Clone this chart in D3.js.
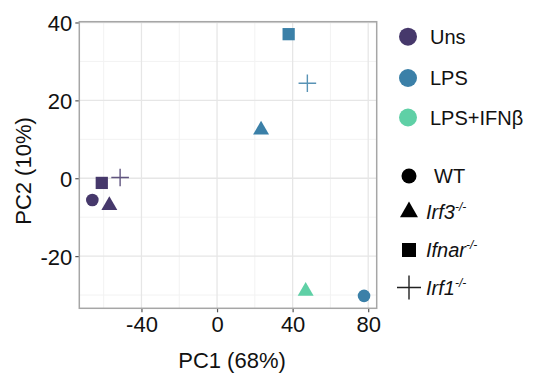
<!DOCTYPE html>
<html>
<head>
<meta charset="utf-8">
<script src="https://cdn.jsdelivr.net/npm/d3@7"></script>
<style>
  body { margin: 0; background: #fff; }
  svg { font-family: "Liberation Sans", Arial, sans-serif; }
</style>
</head>
<body>
<div id="chart"></div>
<script>
// PCA scores
const samples   = ['Uns WT', 'Uns Ifnar', 'Uns Irf3', 'Uns Irf1', 'LPS Ifnar', 'LPS Irf1', 'LPS Irf3', 'LPS WT', 'LPS+IFNb Irf3'];
const pc1       = [-66, -61, -57, -51.3, 37.9, 47.8, 23.3, 77.8, 46.9];
const pc2       = [-5.6, -1.2, -7, 0.2, 37, 24.4, 12.4, -30.2, -29];
const treatment = ['Uns', 'Uns', 'Uns', 'Uns', 'LPS', 'LPS', 'LPS', 'LPS', 'LPS+IFNβ'];
const genotype  = ['WT', 'Ifnar', 'Irf3', 'Irf1', 'Ifnar', 'Irf1', 'Irf3', 'WT', 'Irf3'];

const treatments = ['Uns', 'LPS', 'LPS+IFNβ'];
const genotypes  = ['WT', 'Irf3', 'Ifnar', 'Irf1'];
const genoLabels = ['WT', 'Irf3', 'Ifnar', 'Irf1'];
const xTicks = [-40, 0, 40, 80];
const yTicks = [-20, 0, 20, 40];

const width = 555, height = 373;
const margin = { top: 21.7, right: 178.3, bottom: 64.7, left: 79.3 };
const innerW = width - margin.left - margin.right;
const innerH = height - margin.top - margin.bottom;

const svg = d3.select('#chart').append('svg')
  .attr('width', width).attr('height', height);

const x = d3.scaleLinear().domain([-72.9, 84.5]).range([margin.left, margin.left + innerW]);
const y = d3.scaleLinear().domain([-33.4, 40.2]).range([margin.top + innerH, margin.top]);

const color = d3.scaleOrdinal().domain(treatments).range(['#46386b', '#3b80a8', '#5fd0a6']);

// 网格
const minorX = d3.range(-60, 81, 40), minorY = d3.range(-30, 41, 20);
svg.append('g').selectAll('line').data(minorX).join('line')
  .attr('x1', d => x(d)).attr('x2', d => x(d))
  .attr('y1', margin.top).attr('y2', margin.top + innerH)
  .attr('stroke', '#f2f2f2').attr('stroke-width', 1);
svg.append('g').selectAll('line').data(minorY).join('line')
  .attr('y1', d => y(d)).attr('y2', d => y(d))
  .attr('x1', margin.left).attr('x2', margin.left + innerW)
  .attr('stroke', '#f2f2f2').attr('stroke-width', 1);
svg.append('g').selectAll('line').data(xTicks).join('line')
  .attr('x1', d => x(d)).attr('x2', d => x(d))
  .attr('y1', margin.top).attr('y2', margin.top + innerH)
  .attr('stroke', '#e6e6e6').attr('stroke-width', 1.3);
svg.append('g').selectAll('line').data(yTicks).join('line')
  .attr('y1', d => y(d)).attr('y2', d => y(d))
  .attr('x1', margin.left).attr('x2', margin.left + innerW)
  .attr('stroke', '#e6e6e6').attr('stroke-width', 1.3);

// 坐标轴 (hyphen minus, like the source figure)
const fmt = d => String(d);
const xAxis = svg.append('g')
  .attr('transform', `translate(0,${margin.top + innerH})`)
  .call(d3.axisBottom(x).tickValues(xTicks).tickFormat(fmt).tickSize(4).tickPadding(4));
const yAxis = svg.append('g')
  .attr('transform', `translate(${margin.left},0)`)
  .call(d3.axisLeft(y).tickValues(yTicks).tickFormat(fmt).tickSize(4).tickPadding(3));
[xAxis, yAxis].forEach(g => {
  g.select('.domain').remove();
  g.selectAll('.tick line').attr('stroke', '#555').attr('stroke-width', 1.2);
  g.selectAll('.tick text').attr('fill', '#111').attr('font-size', 22)
    .attr('font-family', '"Liberation Sans", Arial, sans-serif');
});
yAxis.selectAll('.tick text').attr('dy', '0.36em');

// 面板边框
svg.append('rect')
  .attr('x', margin.left).attr('y', margin.top)
  .attr('width', innerW).attr('height', innerH)
  .attr('fill', 'none').attr('stroke', '#a6a6a6').attr('stroke-width', 1.5);

// 轴标题
svg.append('text')
  .attr('x', margin.left + innerW / 2 + 4).attr('y', 368)
  .attr('text-anchor', 'middle').attr('font-size', 22).attr('fill', '#111')
  .text('PC1 (68%)');
svg.append('text')
  .attr('transform', `translate(31,${margin.top + innerH / 2 + 6}) rotate(-90)`)
  .attr('text-anchor', 'middle').attr('font-size', 22).attr('fill', '#111')
  .text('PC2 (10%)');

// 形状
const symbolSize = { WT: 125, Irf3: 110, Ifnar: 150 };
const symbolType = { WT: d3.symbolCircle, Irf3: d3.symbolTriangle, Ifnar: d3.symbolSquare };

const pts = svg.append('g');
samples.forEach((s, i) => {
  const g = pts.append('g')
    .attr('transform', `translate(${x(pc1[i])},${y(pc2[i])})`);
  const col = color(treatment[i]);
  if (genotype[i] === 'Irf1') {
    g.append('path')
      .attr('d', 'M-8.8,0H8.8M0,-8.8V8.8')
      .attr('stroke', col).attr('stroke-width', 1.4).attr('fill', 'none')
      .attr('opacity', 0.85);
  } else {
    g.append('path')
      .attr('d', d3.symbol().type(symbolType[genotype[i]]).size(symbolSize[genotype[i]])())
      .attr('fill', col);
  }
});

// 图例
const leg = svg.append('g');
const colorY = [36.7, 78, 117.5];
treatments.forEach((t, i) => {
  leg.append('circle').attr('cx', 408).attr('cy', colorY[i]).attr('r', 9).attr('fill', color(t));
  leg.append('text').attr('x', 430).attr('y', colorY[i] + 7.2)
    .attr('font-size', 20).attr('fill', '#111').text(t);
});

const shapeY = [176, 212, 250, 287.5];
genotypes.forEach((gname, i) => {
  const g = leg.append('g').attr('transform', `translate(409,${shapeY[i]})`);
  if (gname === 'Irf1') {
    g.append('path').attr('d', 'M-12,0H12M0,-12V12')
      .attr('stroke', '#222').attr('stroke-width', 1.4).attr('fill', 'none');
  } else {
    const sz = { WT: 177, Irf3: 140, Ifnar: 196 }[gname];
    g.append('path')
      .attr('d', d3.symbol().type(symbolType[gname]).size(sz)())
      .attr('fill', '#000');
  }
  const txt = leg.append('text')
    .attr('x', gname === 'WT' ? 434 : 426).attr('y', shapeY[i] + 7.2)
    .attr('font-size', 20).attr('fill', '#111');
  if (gname === 'WT') {
    txt.text('WT');
  } else {
    txt.append('tspan').attr('font-style', 'italic').text(genoLabels[i]);
    txt.append('tspan').attr('font-size', 12).attr('dy', -8).attr('font-style', 'italic').text('-/-');
  }
});
</script>
</body>
</html>
